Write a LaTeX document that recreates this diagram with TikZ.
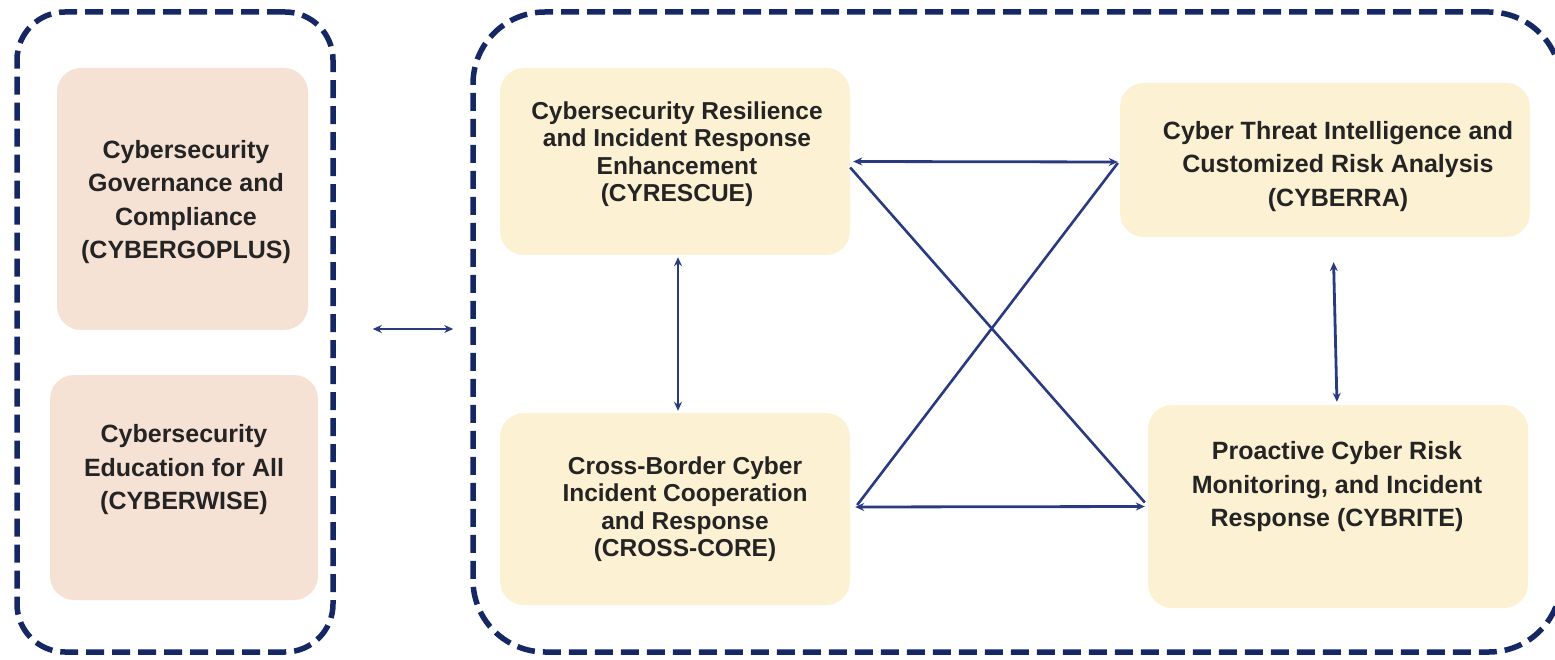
\documentclass[tikz,border=0pt]{standalone}
\usepackage{fontspec}
\setmainfont{Liberation Sans}
\usetikzlibrary{arrows.meta,calc}
\definecolor{navy}{RGB}{22,40,100}
\definecolor{arrowblue}{RGB}{42,58,128}
\definecolor{peach}{RGB}{246,226,212}
\definecolor{cream}{RGB}{252,241,210}
\definecolor{txt}{RGB}{36,36,36}
\begin{document}
\begin{tikzpicture}[x=1pt,y=-1pt,
  group/.style={draw=navy,line width=5.5pt,dash pattern=on 18pt off 8pt,inner sep=0pt},
  box/.style={rounded corners=24pt,inner sep=0pt,draw=none},
  lbl/.style={align=center,text=txt,inner sep=0pt,font=\bfseries\fontsize{25}{33.5}\selectfont},
  lbltight/.style={lbl,font=\bfseries\fontsize{24.5}{27.5}\selectfont},
  arr/.style={draw=arrowblue,line width=2.8pt,{Stealth[length=9pt,width=8pt]}-{Stealth[length=9pt,width=8pt]}},
  link/.style={draw=arrowblue,line width=2.6pt}
]
\useasboundingbox (0,0) rectangle (1555,660);
% group frames
\node[group,rounded corners=48pt,minimum width=316pt,minimum height=640pt] (lg) at (175,332) {};
\node[group,rounded corners=72pt,minimum width=1088pt,minimum height=640pt] (rg) at (1017,332) {};
% boxes
\node[box,fill=peach,minimum width=251pt,minimum height=262pt] (gov) at (182.5,199) {};
\node[box,fill=peach,minimum width=268pt,minimum height=225pt] (edu) at (184,487.5) {};
\node[box,fill=cream,minimum width=350pt,minimum height=187pt] (resc) at (675,161.5) {};
\node[box,fill=cream,minimum width=410pt,minimum height=154pt] (thr) at (1325,160) {};
\node[box,fill=cream,minimum width=350pt,minimum height=192pt] (cross) at (675,509) {};
\node[box,fill=cream,minimum width=380pt,minimum height=203pt] (rite) at (1338,506.5) {};
% texts
\node[lbl] (govt) at (186,202) {Cybersecurity\\Governance and\\Compliance\\(CYBERGOPLUS)};
\node[lbl] (edut) at (184,470) {Cybersecurity\\Education for All\\(CYBERWISE)};
\node[lbltight] (resct) at (677,154) {Cybersecurity Resilience\\and Incident Response\\Enhancement\\(CYRESCUE)};
\node[lbl] (thrt) at (1338,166.5) {Cyber Threat Intelligence and\\Customized Risk Analysis\\(CYBERRA)};
\node[lbltight] (crosst) at (685,509) {Cross-Border Cyber\\Incident Cooperation\\and Response\\(CROSS-CORE)};
\node[lbl] (ritet) at (1337,487) {Proactive Cyber Risk\\Monitoring, and Incident\\Response (CYBRITE)};
% connectors
\draw[arr,shorten <=37pt,shorten >=17pt] ([yshift=3pt]lg.east) -- ([yshift=3pt]rg.west);
\draw[arr,shorten <=2pt,shorten >=2pt] ([xshift=3pt]resc.south) -- ([xshift=3pt]cross.north);
\draw[arr,shorten <=25pt,shorten >=3pt] ([xshift=8pt]thr.south) -- ([xshift=-1pt]rite.north);
\draw[arr,shorten <=3pt,shorten >=2pt] (resc.east) -- ([yshift=-2pt]thr.west);
\draw[arr,shorten <=5pt,shorten >=3pt] ([yshift=2pt]cross.east) -- (rite.west);
\draw[link] ([yshift=-6pt]resc.east) -- ([xshift=-3pt,yshift=4pt]rite.west);
\draw[link] ([xshift=-2pt,yshift=-3pt]thr.west) -- ([xshift=7pt,yshift=4pt]cross.east);
\end{tikzpicture}
\end{document}
